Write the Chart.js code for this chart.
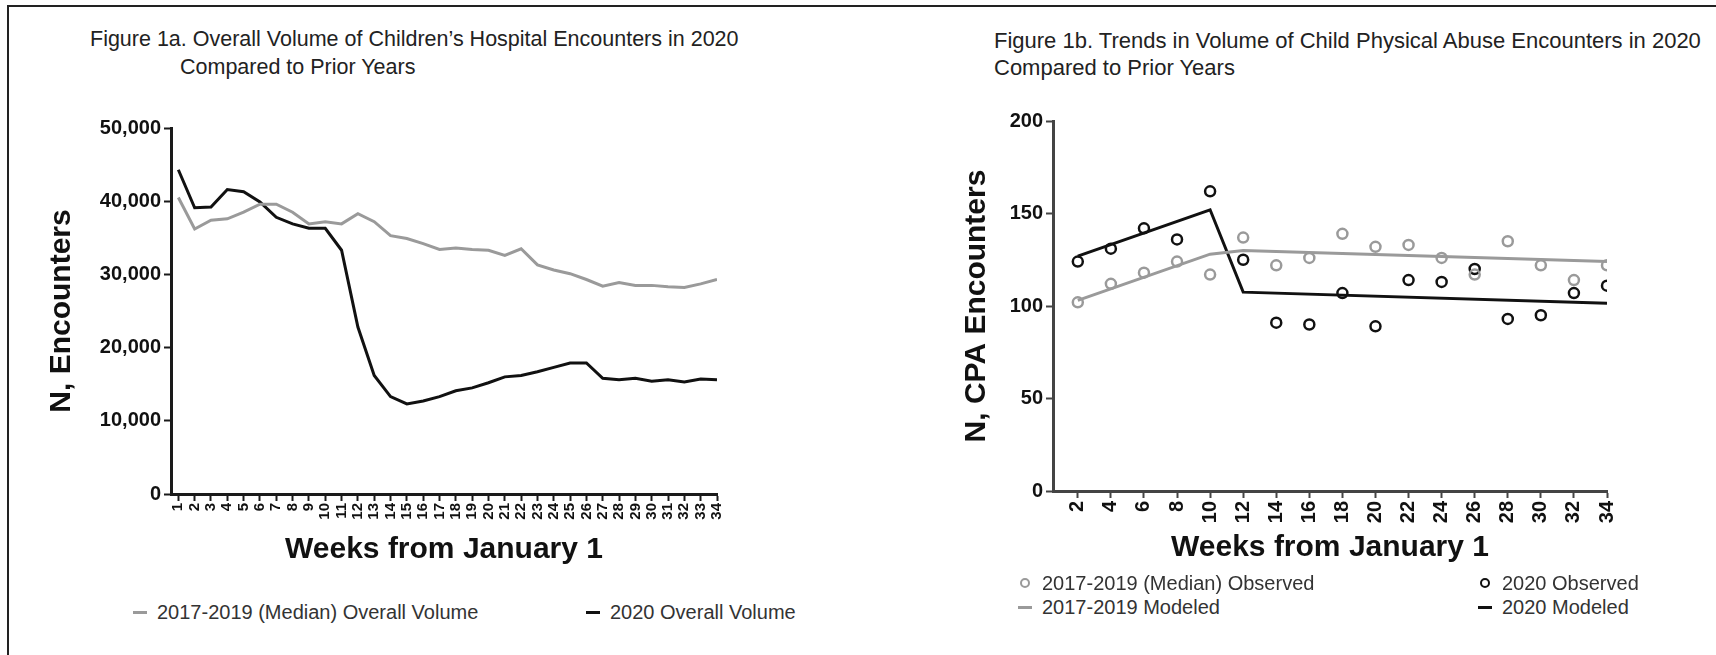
<!DOCTYPE html>
<html lang="en">
<head>
<meta charset="UTF-8">
<title>Figure 1a / 1b</title>
<script src="https://cdn.jsdelivr.net/npm/chart.js"></script>
<style>
  body { margin: 0; background: #fff; font-family: Arial, "Liberation Sans", sans-serif; color: #222; }
  .page { position: relative; width: 1716px; height: 655px; overflow: hidden; }
  .frame { position: absolute; left: 7px; top: 5px; right: -10px; bottom: -10px;
           border-top: 2px solid #222; border-left: 2px solid #222; }
  .title { position: absolute; color: #222; line-height: 1; white-space: nowrap; }
  canvas { position: absolute; }
  .legend { position: absolute; font-size: 20px; color: #333; white-space: nowrap;
            display: flex; align-items: center; line-height: 1; }
  .dash { display: inline-block; width: 14px; height: 3px; margin-right: 10px; }
  .ring { display: inline-block; width: 6px; height: 6px; border: 2px solid; border-radius: 50%; margin-right: 12px; }
</style>
</head>
<body>
<div class="page">
  <div class="frame"></div>

  <div class="title" style="left:90px; top:29px; font-size:21.5px;">Figure 1a. Overall Volume of Children’s Hospital Encounters in 2020</div>
  <div class="title" style="left:180px; top:57px; font-size:21.5px;">Compared to Prior Years</div>
  <div class="title" style="left:994px; top:30px; font-size:22px;">Figure 1b. Trends in Volume of Child Physical Abuse Encounters in 2020</div>
  <div class="title" style="left:994px; top:57px; font-size:22px;">Compared to Prior Years</div>

  <canvas id="fig1a" width="760" height="480" style="left:0; top:100px;"></canvas>
  <canvas id="fig1b" width="800" height="490" style="left:870px; top:90px;"></canvas>

  <div class="legend" style="left:133px; top:602px;"><span class="dash" style="background:#9a9a9a"></span>2017-2019 (Median) Overall Volume</div>
  <div class="legend" style="left:586px; top:602px;"><span class="dash" style="background:#111"></span>2020 Overall Volume</div>

  <div class="legend" style="left:1020px; top:573px;"><span class="ring" style="border-color:#9a9a9a"></span>2017-2019 (Median) Observed</div>
  <div class="legend" style="left:1480px; top:573px;"><span class="ring" style="border-color:#111"></span>2020 Observed</div>
  <div class="legend" style="left:1018px; top:597px;"><span class="dash" style="background:#9a9a9a"></span>2017-2019 Modeled</div>
  <div class="legend" style="left:1478px; top:597px;"><span class="dash" style="background:#111"></span>2020 Modeled</div>
</div>

<script>
// Figure 1a: weekly overall encounters
const weeks = [1, 2, 3, 4, 5, 6, 7, 8, 9, 10, 11, 12, 13, 14, 15, 16, 17,
               18, 19, 20, 21, 22, 23, 24, 25, 26, 27, 28, 29, 30, 31, 32, 33, 34];
const medianVolume = [40500, 36200, 37400, 37600, 38500, 39600, 39600, 38500, 36900, 37200,
                      36900, 38300, 37200, 35300, 34900, 34200, 33400, 33600, 33400, 33300,
                      32600, 33500, 31300, 30600, 30100, 29300, 28400, 28900, 28500, 28500,
                      28300, 28200, 28700, 29300];
const volume2020 = [44300, 39100, 39200, 41600, 41300, 39900, 37800, 36900, 36300, 36300,
                    33300, 22800, 16200, 13300, 12300, 12700, 13300, 14100, 14500, 15200,
                    16000, 16200, 16700, 17300, 17900, 17900, 15800, 15600, 15800, 15400,
                    15600, 15300, 15700, 15600];

// Figure 1b: child physical abuse encounters, every 2nd week
const cpaWeeks = [2, 4, 6, 8, 10, 12, 14, 16, 18, 20, 22, 24, 26, 28, 30, 32, 34];
const medianObserved = [102, 112, 118, 124, 117, 137, 122, 126, 139, 132, 133, 126, 117, 135, 122, 114, 122];
const observed2020 = [124, 131, 142, 136, 162, 125, 91, 90, 107, 89, 114, 113, 120, 93, 95, 107, 111];
const modelBreaks = [2, 10, 12, 34];
const medianModeled = [103, 128, 130, 124];
const modeled2020 = [127, 152, 107.5, 101.5];

const GRAY = '#9a9a9a';
const BLACK = '#111';
const FONT = 'Arial, "Liberation Sans", sans-serif';

const pts = (xs, ys) => xs.map((x, i) => ({ x: x, y: ys[i] }));

function axisStyle(color) {
    return {
        border: { display: true, width: 3, color: color },
        grid: { display: true, drawOnChartArea: false, drawTicks: true, tickLength: 7, tickWidth: 2, tickColor: color }
    };
}

// ---- Figure 1a ----
new Chart(document.getElementById('fig1a'), {
    type: 'line',
    data: {
        datasets: [
            { label: '2017-2019 (Median) Overall Volume', data: pts(weeks, medianVolume),
              borderColor: GRAY, borderWidth: 3, pointRadius: 0, fill: false, tension: 0 },
            { label: '2020 Overall Volume', data: pts(weeks, volume2020),
              borderColor: BLACK, borderWidth: 3, pointRadius: 0, fill: false, tension: 0 }
        ]
    },
    options: {
        responsive: false,
        animation: false,
        layout: { padding: { top: 28, right: 43, left: 0, bottom: 0 } },
        plugins: { legend: { display: false }, tooltip: { enabled: false } },
        scales: {
            x: {
                type: 'linear', min: 0.55, max: 34,
                ...axisStyle('#1a1a1a'),
                afterBuildTicks: s => { s.ticks = weeks.map(v => ({ value: v })); },
                afterFit: s => { s.height = 86; },
                ticks: { autoSkip: false, minRotation: 90, maxRotation: 90, padding: 2, color: '#111',
                         font: { family: FONT, size: 15, weight: 'bold' } },
                title: { display: true, text: 'Weeks from January 1', color: '#111',
                         font: { family: FONT, size: 30, weight: 'bold' }, padding: { top: 0, bottom: 12 } }
            },
            y: {
                min: 0, max: 50000,
                ...axisStyle('#1a1a1a'),
                afterFit: s => { s.width = 171; },
                ticks: { stepSize: 10000, padding: 3, color: '#111',
                         font: { family: FONT, size: 20, weight: 'bold' },
                         callback: v => v.toLocaleString('en-US') },
                title: { display: true, text: 'N, Encounters', color: '#111',
                         font: { family: FONT, size: 30, weight: 'bold' }, padding: { top: 44, bottom: 0 } }
            }
        }
    }
});

// ---- Figure 1b ----
const ring = (color, data, label) => ({
    type: 'scatter', label: label, data: data, showLine: false,
    pointRadius: 5, pointBorderWidth: 2.5, pointBorderColor: color,
    pointBackgroundColor: 'rgba(255,255,255,0)'
});

new Chart(document.getElementById('fig1b'), {
    type: 'line',
    data: {
        datasets: [
            { label: '2017-2019 Modeled', data: pts(modelBreaks, medianModeled),
              borderColor: GRAY, borderWidth: 3, pointRadius: 0, fill: false, tension: 0 },
            { label: '2020 Modeled', data: pts(modelBreaks, modeled2020),
              borderColor: BLACK, borderWidth: 3, pointRadius: 0, fill: false, tension: 0 },
            ring(GRAY, pts(cpaWeeks, medianObserved), '2017-2019 (Median) Observed'),
            ring(BLACK, pts(cpaWeeks, observed2020), '2020 Observed')
        ]
    },
    options: {
        responsive: false,
        animation: false,
        layout: { padding: { top: 31, right: 63, left: 0, bottom: 0 } },
        plugins: { legend: { display: false }, tooltip: { enabled: false } },
        scales: {
            x: {
                type: 'linear', min: 0.5, max: 34,
                ...axisStyle('#444'),
                afterBuildTicks: s => { s.ticks = cpaWeeks.map(v => ({ value: v })); },
                afterFit: s => { s.height = 89; },
                ticks: { autoSkip: false, minRotation: 90, maxRotation: 90, padding: 3, color: '#111',
                         font: { family: FONT, size: 20, weight: 'bold' } },
                title: { display: true, text: 'Weeks from January 1', color: '#111',
                         font: { family: FONT, size: 30, weight: 'bold' }, padding: { top: 0, bottom: 14 } }
            },
            y: {
                min: 0, max: 200,
                ...axisStyle('#444'),
                afterFit: s => { s.width = 183; },
                ticks: { stepSize: 50, padding: 3, color: '#111',
                         font: { family: FONT, size: 20, weight: 'bold' } },
                title: { display: true, text: 'N, CPA Encounters', color: '#111',
                         font: { family: FONT, size: 30, weight: 'bold' }, padding: { top: 89, bottom: 0 } }
            }
        }
    }
});
</script>
</body>
</html>
